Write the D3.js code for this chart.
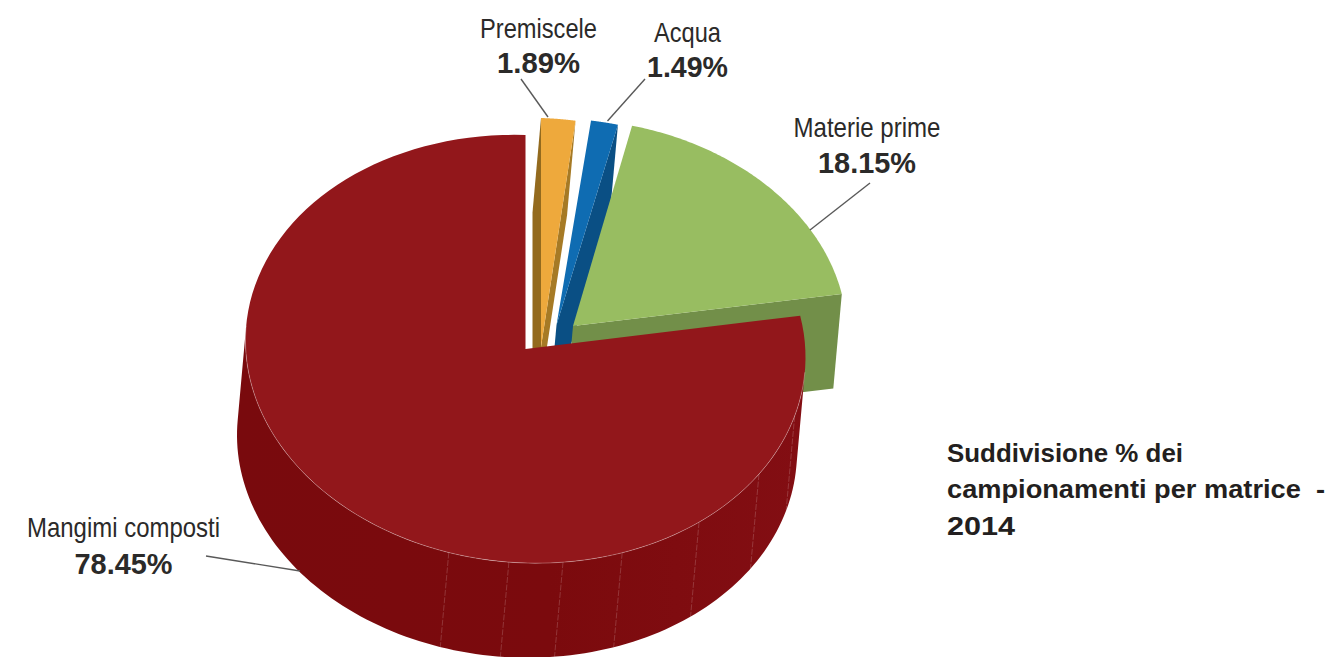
<!DOCTYPE html>
<html>
<head>
<meta charset="utf-8">
<script src="https://cdn.jsdelivr.net/npm/d3@7"></script>
<style>html,body{margin:0;padding:0;background:#fff}svg{display:block}</style>
</head>
<body>
<svg id="chart" width="1329" height="657"></svg>
<script>
const categories = ["Premiscele", "Acqua", "Materie prime", "Mangimi composti"];
const values = [1.89, 1.49, 18.15, 78.45];
const valueLabels = ["1.89%", "1.49%", "18.15%", "78.45%"];
const titleLines = ["Suddivisione % dei", "campionamenti per matrice  -", "2014"];

// Geometry and style, kept apart from the data
const extrude = {x: -8.5, y: 94.5};
const warpAmount = 0.023;
const tilt = 0.03;
const sliceGeom = [
  {cx: 541, cy: 347, rx: 285, ry: 229, face: "#eea93c", wall: "#a67a25", wallL: "#936a1e"},
  {cx: 556.5, cy: 325, rx: 285, ry: 207, face: "#0f6cb2", wall: "#0a4f84"},
  {cx: 573, cy: 326, rx: 274, ry: 207, face: "#98bd61", wall: "#728f49"},
  {cx: 525.5, cy: 349, rx: 280, ry: 214, face: "#92171b"}
];
const seamAngles = [106, 123.5, 141.7, 159.8, 172.3, 183.4, 195.9];
const labelGeom = [
  {x: 538.5, y1: 38, y2: 73, w1: 117, w2: 83, line: [[521, 79], [548, 117]]},
  {x: 687.5, y1: 42, y2: 77, w1: 67, w2: 81, line: [[645, 79], [607.5, 121]]},
  {x: 867, y1: 137, y2: 173, w1: 147, w2: 98, line: [[870, 183], [810, 230]]},
  {x: 123.5, y1: 537, y2: 574, w1: 193, w2: 98, line: [[206, 556], [300, 571]]}
];
const titleGeom = {x: 947, y: [462, 498, 535], w: [236, 378, 68]};

const svg = d3.select("#chart");
const rad = d => d * Math.PI / 180;
const line = d3.line();
const pie = d3.pie().sort(null).value(d => d);
const arcs = pie(values);

const warp = a => a + warpAmount * Math.sin(a);
const pt = (g, a) => {
  const dx = g.rx * Math.sin(a);
  return [g.cx + dx, g.cy - g.ry * Math.cos(a) + tilt * dx];
};
const sink = p => [p[0] + extrude.x, p[1] + extrude.y];
const sweep = (g, a0, a1) => d3.range(0, 121).map(i => pt(g, a0 + (a1 - a0) * i / 120));

// Wall gradient of the big slice
const grad = svg.append("defs").append("linearGradient").attr("id", "wallGrad");
grad.append("stop").attr("offset", "0%").attr("stop-color", "#790a0d");
grad.append("stop").attr("offset", "55%").attr("stop-color", "#7b0a0d");
grad.append("stop").attr("offset", "100%").attr("stop-color", "#830e13");

const radialWall = (g, a, col) => {
  const apex = [g.cx, g.cy], outer = pt(g, a);
  svg.append("path").attr("d", line([apex, outer, sink(outer), sink(apex)]) + "Z").attr("fill", col);
};

// Exploded small slices, then the green one
arcs.slice(0, 3).forEach((d, i) => {
  const g = sliceGeom[i], a0 = warp(d.startAngle), a1 = warp(d.endAngle);
  if (g.wallL) radialWall(g, a0, g.wallL);
  radialWall(g, a1, g.wall);
  svg.append("path").attr("d", line([[g.cx, g.cy], ...sweep(g, a0, a1)]) + "Z").attr("fill", g.face);
});

// Big slice: wall, seams, face
const big = arcs[3], gm = sliceGeom[3];
const silhouette = sweep(gm, rad(94), rad(274));
svg.append("path")
  .attr("d", line([...silhouette, ...silhouette.map(sink).reverse()]) + "Z")
  .attr("fill", "url(#wallGrad)");
svg.selectAll("line.seam").data(seamAngles).join("line").attr("class", "seam")
  .each(function (d) {
    const p = pt(gm, rad(d)), q = sink(p);
    d3.select(this).attr("x1", p[0]).attr("y1", p[1]).attr("x2", q[0]).attr("y2", q[1]);
  })
  .attr("stroke", "rgba(255,255,255,0.22)").attr("stroke-width", 0.8).attr("stroke-dasharray", "6 1.5");
svg.append("path")
  .attr("d", line([[gm.cx, gm.cy], ...sweep(gm, warp(big.startAngle), warp(big.endAngle))]) + "Z")
  .attr("fill", gm.face);
svg.append("path")
  .attr("d", line(sweep(gm, rad(94), rad(274))))
  .attr("fill", "none").attr("stroke", "rgba(255,255,255,0.4)").attr("stroke-width", 0.7);

// Leaders
svg.selectAll("path.leader").data(labelGeom).join("path").attr("class", "leader")
  .attr("d", d => line(d.line)).attr("fill", "none").attr("stroke", "#595959").attr("stroke-width", 1.4);

// Labels
const fontFam = "'Liberation Sans', Arial, sans-serif";
categories.forEach((c, i) => {
  const g = labelGeom[i];
  svg.append("text").text(c)
    .attr("x", g.x).attr("y", g.y1).attr("text-anchor", "middle")
    .attr("font-family", fontFam).attr("font-size", 28).attr("fill", "#2b2a29")
    .attr("textLength", g.w1).attr("lengthAdjust", "spacingAndGlyphs");
  svg.append("text").text(valueLabels[i])
    .attr("x", g.x).attr("y", g.y2).attr("text-anchor", "middle")
    .attr("font-family", fontFam).attr("font-weight", "bold").attr("font-size", 29).attr("fill", "#2b2a29")
    .attr("textLength", g.w2).attr("lengthAdjust", "spacingAndGlyphs");
});

// Title block
titleLines.forEach((t, i) => {
  svg.append("text").text(t).attr("xml:space", "preserve").style("white-space", "pre")
    .attr("x", titleGeom.x).attr("y", titleGeom.y[i])
    .attr("font-family", fontFam).attr("font-weight", "bold").attr("font-size", 26).attr("fill", "#231f20")
    .attr("textLength", titleGeom.w[i]).attr("lengthAdjust", "spacingAndGlyphs");
});
</script>
</body>
</html>
